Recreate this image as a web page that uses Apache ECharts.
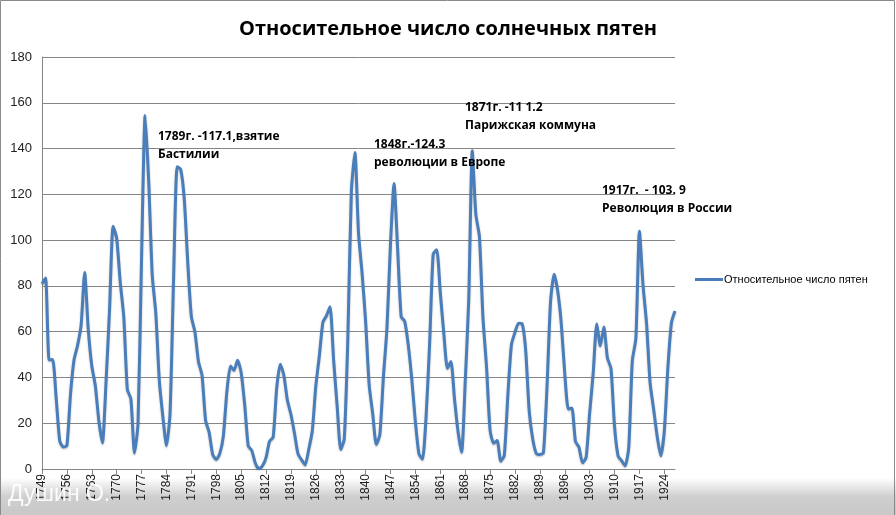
<!DOCTYPE html>
<html><head><meta charset="utf-8">
<script src="https://cdn.jsdelivr.net/npm/echarts@6/dist/echarts.min.js"></script>
<style>html,body{margin:0;padding:0;background:#fff}#c{width:896px;height:515px}</style>
</head><body><div id="c"></div>
<script>
const startYear = 1749;
const endYear = 1927;
const years = [];
for (let y = startYear; y <= endYear; y++) years.push(String(y));
const sunspots = [
80.9,83.4,47.7,47.8,30.7,12.2,9.6,10.2,32.4,47.6,54.0,62.9,85.9,61.2,45.1,36.4,20.9,11.4,37.8,69.8,
106.1,100.8,81.6,66.5,34.8,30.6,7.0,19.8,92.5,154.4,125.9,84.8,68.1,38.5,22.8,10.2,24.1,82.9,132.0,130.9,
118.1,89.9,66.6,60.0,46.9,41.0,21.3,16.0,6.4,4.1,6.8,14.5,34.0,45.0,43.1,47.5,42.2,28.1,10.1,8.1,
2.5,0.0,1.4,5.0,12.2,13.9,35.4,45.8,41.1,30.1,23.9,15.6,6.6,4.0,1.8,8.5,16.6,36.3,49.6,64.2,
67.0,70.9,47.8,27.5,8.5,13.2,56.9,121.5,138.3,103.2,85.7,64.6,36.7,24.2,10.7,15.0,40.1,61.5,98.5,124.7,
96.3,66.6,64.5,54.1,39.0,20.6,6.7,4.3,22.7,54.8,93.8,95.8,77.2,59.1,44.0,47.0,30.5,16.3,7.3,37.6,
74.0,139.0,111.2,101.6,66.2,44.7,17.0,11.3,12.4,3.4,6.0,32.3,54.3,59.7,63.7,63.5,52.2,25.4,13.1,6.8,
6.3,7.1,35.6,73.0,85.1,78.0,64.0,41.8,26.2,26.7,12.1,9.5,2.7,5.0,24.4,42.0,63.5,53.8,62.0,48.5,
43.9,18.6,5.7,3.6,1.4,9.6,47.4,57.1,103.9,80.6,63.6,37.6,26.1,14.2,5.8,16.7,44.3,63.9,69.0
];
const seriesName = 'Относительное число пятен';
const titleText = 'Относительное число солнечных пятен';
const notes = [
  ['1789г. -117.1,взятие', 'Бастилии'],
  ['1848г.-124.3', 'революции в Европе'],
  ['1871г. -11 1.2', 'Парижская коммуна'],
  ['1917г.  - 103. 9', 'Революция в России']
];
const notePos = [[158,128],[374,136],[465,99],[602,182]];

const chart = echarts.init(document.getElementById('c'));
const graphics = [
  {type:'rect', z:-10, silent:true, shape:{x:0,y:478,width:896,height:37},
   style:{fill:new echarts.graphic.LinearGradient(0,0,0,1,[{offset:0,color:'#ffffff'},{offset:0.5,color:'#cfcfcf'},{offset:1,color:'#c8c8c8'}])}},
  {type:'rect', z:100, silent:true, shape:{x:0.5,y:0.5,width:894,height:520},
   style:{fill:'none',stroke:'#8a8a8a',lineWidth:1}},
  {type:'text', z:100, left:8, top:483, style:{text:'Душин О.', fill:'#ffffff', font:'23px "Liberation Sans", sans-serif', opacity:0.9}}
];
notes.forEach((n,i)=>{
  graphics.push({type:'text', z:50, left:notePos[i][0], top:notePos[i][1],
    style:{text:n[0]+'\n'+n[1], fill:'#000', font:'bold 12px "Open Sans", sans-serif', lineHeight:18}});
});

chart.setOption({
  animation:false,
  backgroundColor:'#fff',
  title:{text:titleText, left:'center', top:14, textStyle:{fontFamily:'Open Sans', fontWeight:'bold', fontSize:20, color:'#000'}},
  grid:{left:42, right:221, top:57, bottom:46, containLabel:false},
  legend:{left:690, top:269, itemWidth:28, itemHeight:3, icon:'rect', itemGap:4,
    textStyle:{fontFamily:'Liberation Sans', fontSize:11, color:'#000', padding:[0,0,0,-4]},
    data:[seriesName]},
  xAxis:{type:'category', data:years, boundaryGap:false,
    axisLine:{lineStyle:{color:'#868686'}},
    axisTick:{interval:6, length:5, lineStyle:{color:'#868686'}},
    axisLabel:{interval:6, rotate:90, fontFamily:'Liberation Sans', fontSize:12, color:'#222', margin:5}},
  yAxis:{type:'value', min:0, max:180, interval:20,
    axisLine:{show:true, lineStyle:{color:'#868686'}},
    axisTick:{show:false},
    splitLine:{lineStyle:{color:'#868686', width:1}},
    axisLabel:{fontFamily:'Liberation Sans', fontSize:13, color:'#222', margin:10}},
  series:[{name:seriesName, type:'line', data:sunspots, showSymbol:false, symbol:'none', smooth:0.2,
    lineStyle:{color:'#4a7ebb', width:3, shadowColor:'rgba(0,0,0,0.25)', shadowBlur:2, shadowOffsetY:1},
    itemStyle:{color:'#4a7ebb'}}],
  graphic:graphics
});
</script></body></html>
